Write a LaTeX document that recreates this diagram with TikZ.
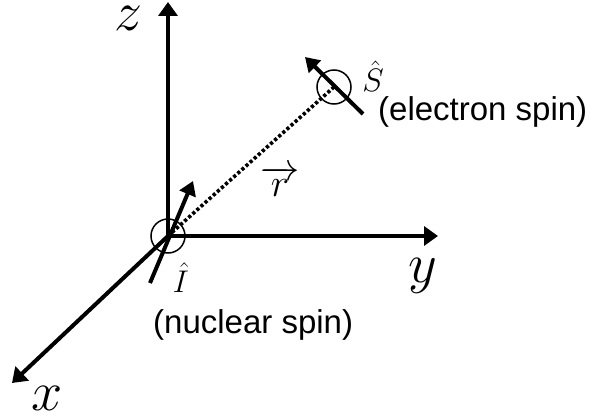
\RequirePackage{fix-cm}
\documentclass[tikz,border=0pt]{standalone}
\usepackage{fontspec}
\setmainfont{Liberation Sans}
\usetikzlibrary{arrows.meta}
\begin{document}
\begin{tikzpicture}[x=1pt,y=-1pt,
  axis/.style={line width=4pt,-{Triangle[length=14pt,width=19pt]}},
  spinarrow/.style={line width=4pt,-{Triangle[length=14pt,width=17pt]}},
  spincircle/.style={circle,draw,line width=1.5pt,minimum size=34pt,inner sep=0pt},
  sep/.style={line width=3.6pt,dash pattern=on 3.2pt off 2.3pt},
  axislabel/.style={inner sep=0pt,font=\fontsize{56}{60}\selectfont},
  textlabel/.style={inner sep=0pt,anchor=base west,font=\fontsize{33}{38}\selectfont}]
\useasboundingbox (0,0) rectangle (590,420);
% axes
\coordinate (O) at (168,236);
\coordinate (Ztip) at (168,2);
\coordinate (Ytip) at (438,236);
\coordinate (Xtip) at (12,383);
\draw[axis] (O) -- (Ztip);
\draw[axis] (O) -- (Ytip);
\draw[axis] (O) -- (Xtip);
\node[axislabel] (zl) at (128,18) {$z$};
\node[axislabel] (yl) at (423,276) {$y$};
\node[axislabel] (xl) at (47,398) {$x$};
% nuclear spin
\coordinate (Itail) at (150,283);
\coordinate (Itip) at (193,181);
\draw[spinarrow] (Itail) -- (Itip);
\node[spincircle] (nuc) at (O) {};
% electron spin
\coordinate (E) at (334,87);
\coordinate (Stail) at (363,114);
\coordinate (Stip) at (305,57);
\draw[spinarrow] (Stail) -- (Stip);
\node[spincircle] (ele) at (E) {};
% separation vector
\draw[sep] (O) -- (E);
% labels
\node[axislabel] (Sl) at (373,76) {\scalebox{0.58}{$\hat{S}$}};
\node[axislabel] (Il) at (181,278) {\scalebox{0.56}{$\hat{I}$}};
\node[axislabel] (rl) at (280,181) {\scalebox{0.7}{$\overrightarrow{r}$}};
\node[textlabel] (et) at (378,121) {(electron spin)};
\node[textlabel] (nt) at (153,333) {(nuclear spin)};
\end{tikzpicture}
\end{document}
